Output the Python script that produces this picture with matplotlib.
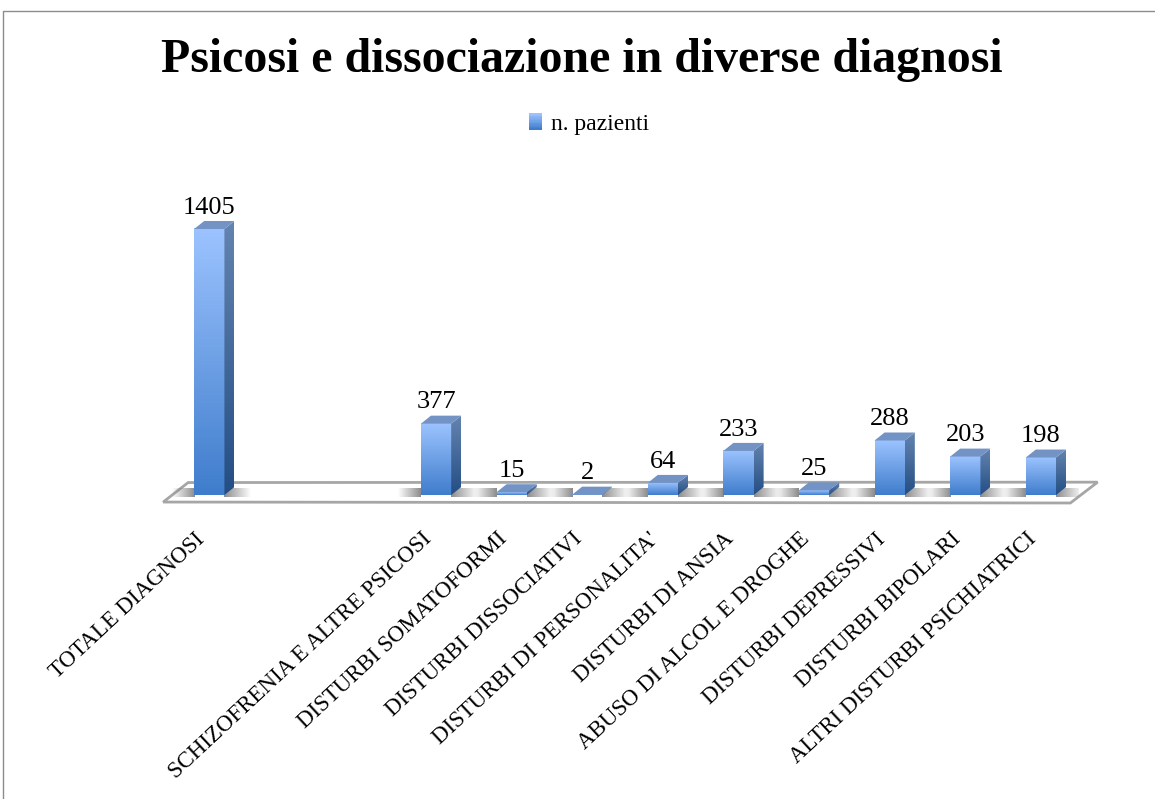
import numpy as np
import matplotlib
matplotlib.use('Agg')
from matplotlib import pyplot as plt
from matplotlib.colors import LinearSegmentedColormap
from matplotlib.legend_handler import HandlerBase
from matplotlib.lines import Line2D
from matplotlib.patches import Patch, Polygon, Rectangle
from matplotlib.transforms import ScaledTranslation

categories = ["TOTALE DIAGNOSI", "", "", "SCHIZOFRENIA E ALTRE PSICOSI",
              "DISTURBI SOMATOFORMI", "DISTURBI DISSOCIATIVI",
              "DISTURBI DI PERSONALITA'", "DISTURBI DI ANSIA",
              "ABUSO DI ALCOL E DROGHE", "DISTURBI DEPRESSIVI",
              "DISTURBI BIPOLARI", "ALTRI DISTURBI PSICHIATRICI"]
values = [1405, None, None, 377, 15, 2, 64, 233, 25, 288, 203, 198]
series_name = "n. pazienti"
title = "Psicosi e dissociazione in diverse diagnosi"

W, H = 1155, 799
plt.rcParams['font.family'] = ['Liberation Serif', 'DejaVu Sans']

fig = plt.figure(figsize=(W / 100, H / 100), dpi=100)
# axes placed in pixels so that one category is 75.6 px, one unit 0.1893 px
ax = fig.add_axes([171.5 / W, 1 - 506.4 / H, 907.2 / W, 295.4 / H])
ax.set_xlim(-0.5, 11.5)
ax.set_ylim(-60, 1500)

front = LinearSegmentedColormap.from_list('front', ['#9CC3FF', '#3F7DCC'])
side = LinearSegmentedColormap.from_list('side', ['#6484B0', '#244E84'])
grad = np.linspace(0, 1, 128).reshape(-1, 1)

w = 0.4
dx = 10 / 75.6
dy = 8 / 0.1893


class GradientHandle(HandlerBase):
    # square legend key with the same vertical gradient as the bars
    def create_artists(self, legend, orig_handle, xdescent, ydescent, width, height, fontsize, trans):
        n = 12
        return [Rectangle((-xdescent, -ydescent + height * k / n), width, height / n + 0.2,
                          facecolor=front(1 - k / (n - 1)), edgecolor='none', transform=trans)
                for k in range(n)]


# floor
floor = [(-0.61, -37), (-0.28, 66), (11.75, 68), (11.39, -42)]
ax.add_patch(Polygon(floor, closed=True, facecolor='white', edgecolor='#A6A6A6',
                     linewidth=2, zorder=1, clip_on=False))

shadow = np.zeros((1, 64, 4))
shadow[0, :, :3] = 0.5
shadow[0, :, 3] = np.linspace(0.9, 0, 64)

for i, v in enumerate(values):
    if v is None:
        continue
    ax.imshow(shadow, extent=[i + w / 2, i + w / 2 + 0.35, -10, 37], aspect='auto', zorder=2)
    ax.imshow(shadow[:, ::-1], extent=[i - w / 2 - 0.3, i - w / 2, -10, 37], aspect='auto', zorder=2)
    ax.imshow(grad, cmap=front, extent=[i - w / 2, i + w / 2, 0, v], aspect='auto', zorder=4)
    side_face = Polygon([(i + w / 2, 0), (i + w / 2 + dx, dy), (i + w / 2 + dx, v + dy), (i + w / 2, v)],
                        closed=True, transform=ax.transData)
    im = ax.imshow(grad, cmap=side, extent=[i + w / 2, i + w / 2 + dx, 0, v + dy], aspect='auto', zorder=4)
    im.set_clip_path(side_face)
    ax.add_patch(Polygon([(i - w / 2, v), (i - w / 2 + dx, v + dy), (i + w / 2 + dx, v + dy), (i + w / 2, v)],
                         closed=True, facecolor='#7393C4', edgecolor='none', zorder=5))
    ax.annotate(str(v), (i, v), xytext=(0, 11), textcoords='offset points', ha='center',
                va='baseline', fontsize=19, color='black', zorder=6)

ax.set_xlim(-0.5, 11.5)
ax.set_ylim(-60, 1500)
ax.patch.set_visible(False)
for s in ax.spines.values():
    s.set_visible(False)
ax.set_yticks([])
ax.set_xticks(range(len(categories)))
ax.set_xticklabels(categories, rotation=43, ha='right', va='top', rotation_mode='anchor', fontsize=16.5)
ax.tick_params(axis='x', length=0, pad=16)
shift = ScaledTranslation(-15 / 100, 0, fig.dpi_scale_trans)
for lab in ax.get_xticklabels():
    lab.set_transform(lab.get_transform() + shift)

fig.text(582 / W, 1 - 60 / H, title, ha='center', va='center', fontsize=34.5, fontweight='bold')

key = Patch(label=series_name)
fig.legend(handles=[key], handler_map={Patch: GradientHandle()}, loc='center',
           bbox_to_anchor=(589 / W, 1 - 124 / H), frameon=False, fontsize=17,
           handlelength=0.55, handleheight=0.7, handletextpad=0.4)

# chart frame
fig.add_artist(Line2D([3 / W, 3 / W, 1], [0, 1 - 11 / H, 1 - 11 / H], color='#8C8C8C', linewidth=1))

plt.savefig('out.png', dpi=100)
